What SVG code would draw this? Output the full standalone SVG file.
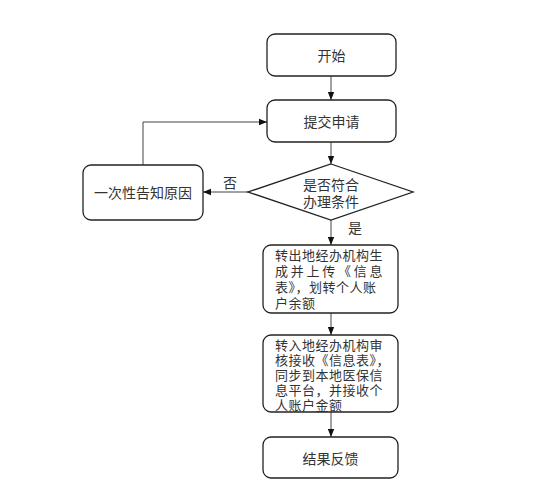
<svg xmlns="http://www.w3.org/2000/svg" width="550" height="495" viewBox="0 0 550 495">
<defs>
<marker id="ah" markerWidth="8" markerHeight="8" refX="8" refY="4" orient="auto" markerUnits="userSpaceOnUse">
<path d="M0,0.8 L8,4 L0,7.2 Z" fill="#111"/>
</marker>
<style>
.box{fill:#fff;stroke:#222;stroke-width:1.3}
.t{font-family:"Noto Sans CJK SC","Noto Sans CJK JP",sans-serif;font-size:14px;fill:#333}
.tl{font-family:"Noto Sans CJK SC","Noto Sans CJK JP",sans-serif;font-size:13px;letter-spacing:0.5px;fill:#333}
.c{text-anchor:middle;dominant-baseline:central}
.e{fill:none;stroke:#444;stroke-width:1;marker-end:url(#ah)}
</style>
</defs>
<rect width="550" height="495" fill="#fff"/>
<g id="connectors">
<line class="e" x1="331" y1="76" x2="331" y2="100"/>
<line class="e" x1="331" y1="142" x2="331" y2="164"/>
<line class="e" x1="331" y1="220" x2="331" y2="245"/>
<line class="e" x1="331" y1="313" x2="331" y2="335"/>
<line class="e" x1="331" y1="412" x2="331" y2="437"/>
<line class="e" x1="248" y1="192" x2="203" y2="192"/>
<polyline class="e" points="143,165 143,122 267,122"/>
<text class="t c" x="230" y="182">否</text>
<text class="t c" x="355" y="227">是</text>
</g>
<g id="start">
<rect class="box" x="267" y="34" width="129" height="42" rx="8"/>
<text class="t c" x="331.5" y="55">开始</text>
</g>
<g id="submit">
<rect class="box" x="267" y="100" width="129" height="42" rx="8"/>
<text class="t c" x="331.5" y="121">提交申请</text>
</g>
<g id="decision">
<polygon class="box" points="331,164 413,192 331,220 248,192"/>
<text class="t c" x="331" y="184">是否符合</text>
<text class="t c" x="331" y="201">办理条件</text>
</g>
<g id="notify">
<rect class="box" x="83" y="165" width="120" height="55" rx="8"/>
<text class="t c" x="143" y="192">一次性告知原因</text>
</g>
<g id="transfer-out">
<rect class="box" x="263" y="245" width="135" height="68" rx="8"/>
<text class="tl" x="275" y="260">转出地经办机构生</text>
<text class="tl" x="275" y="276" textLength="108" lengthAdjust="spacing">成并上传《信息</text>
<text class="tl" x="275" y="292">表》，划转个人账</text>
<text class="tl" x="275" y="308">户余额</text>
</g>
<g id="transfer-in">
<rect class="box" x="263" y="335" width="135" height="77" rx="8"/>
<text class="tl" x="275" y="350">转入地经办机构审</text>
<text class="tl" x="275" y="365">核接收《信息表》，</text>
<text class="tl" x="275" y="380">同步到本地医保信</text>
<text class="tl" x="275" y="395">息平台，并接收个</text>
<text class="tl" x="275" y="410">人账户金额</text>
</g>
<g id="feedback">
<rect class="box" x="263" y="437" width="135" height="41" rx="8"/>
<text class="t c" x="330.5" y="457.5">结果反馈</text>
</g>
</svg>
